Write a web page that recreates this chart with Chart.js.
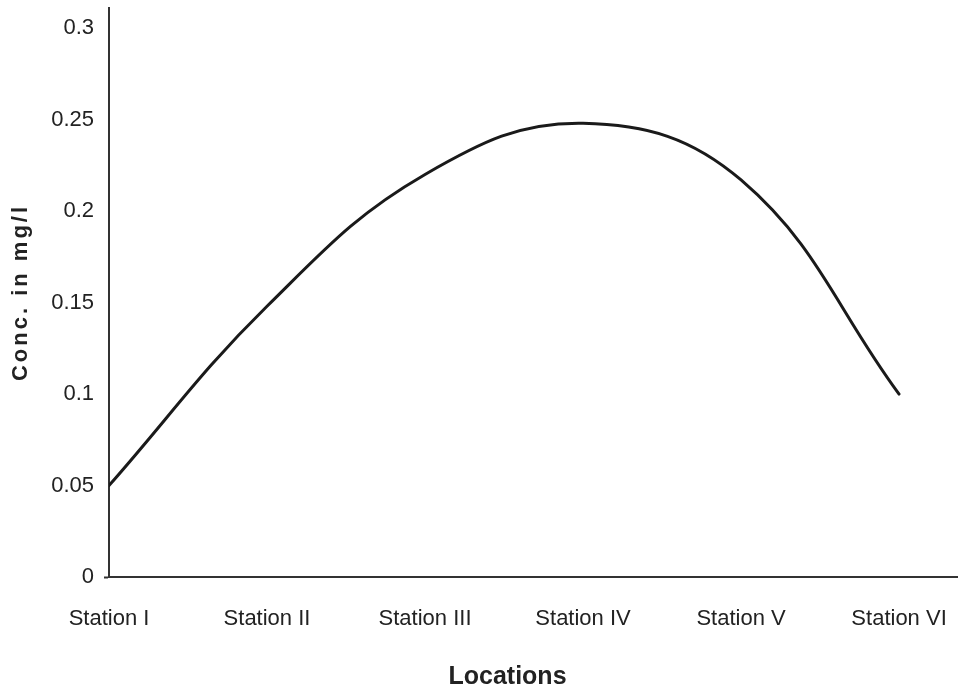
<!DOCTYPE html>
<html>
<head>
<meta charset="utf-8">
<script src="https://cdn.jsdelivr.net/npm/chart.js@4.4.1/dist/chart.umd.min.js"></script>
<style>
    body { margin: 0; background: #fff; }
    #wrap { width: 958px; height: 694px; }
</style>
</head>
<body>
<div id="wrap"><canvas id="myChart" width="958" height="694"></canvas></div>
<script>
// stations along the x axis
const stations = ['Station I', 'Station II', 'Station III', 'Station IV', 'Station V', 'Station VI'];
// concentration at each station (mg/l)
const conc = [0.05, 0.148, 0.22, 0.248, 0.217, 0.1];
// y tick values
const yTicks = [0, 0.05, 0.1, 0.15, 0.2, 0.25, 0.3];

const fontFamily = '"Liberation Sans", Arial, sans-serif';

// the y title in the picture is letter-spaced and the x title sits a bit left of centre,
// so wrap the two drawTitle calls
const titleTweaks = {
    id: 'titleTweaks',
    afterLayout(chart) {
        const y = chart.scales.y;
        const x = chart.scales.x;
        if (!y._tweaked) {
            const origY = y.drawTitle.bind(y);
            y.drawTitle = function(area) {
                chart.ctx.save();
                chart.ctx.letterSpacing = '3px';
                origY(area);
                chart.ctx.restore();
            };
            y._tweaked = true;
        }
        if (!x._tweaked) {
            const origX = x.drawTitle.bind(x);
            x.drawTitle = function(area) {
                chart.ctx.save();
                chart.ctx.translate(-26, 0);
                origX(area);
                chart.ctx.restore();
            };
            x._tweaked = true;
        }
    }
};

function noPadding(scale) {
    scale.paddingTop = 0;
    scale.paddingBottom = 0;
    scale.paddingLeft = 0;
    scale.paddingRight = 0;
}

let ctx = document.getElementById('myChart').getContext('2d');

let chart = new Chart(ctx, {
    type: 'line',
    data: {
        datasets: [{
            data: stations.map((s, i) => ({ x: i, y: conc[i] })),
            borderColor: '#1a1a1a',
            borderWidth: 3,
            borderCapStyle: 'round',
            borderJoinStyle: 'round',
            tension: 0.4,
            pointRadius: 0,
            fill: false
        }]
    },
    plugins: [titleTweaks],
    options: {
        responsive: false,
        animation: false,
        layout: {
            padding: { top: 8, right: 0, bottom: 0, left: 0 }
        },
        plugins: {
            legend: { display: false },
            tooltip: { enabled: false }
        },
        scales: {
            x: {
                type: 'linear',
                min: 0,
                max: 5.373,
                afterBuildTicks: (scale) => {
                    scale.ticks = stations.map((s, i) => ({ value: i }));
                },
                afterFit: (scale) => {
                    scale.height = 117;
                    noPadding(scale);
                },
                grid: {
                    display: false,
                    drawTicks: false
                },
                border: {
                    display: true,
                    color: '#333',
                    width: 2
                },
                ticks: {
                    autoSkip: false,
                    maxRotation: 0,
                    padding: 29,
                    color: '#222',
                    font: { family: fontFamily, size: 22 },
                    callback: (v) => stations[v]
                },
                title: {
                    display: true,
                    text: 'Locations',
                    color: '#222',
                    font: { family: fontFamily, size: 25, weight: 'bold' },
                    padding: { top: 0, bottom: 2 }
                }
            },
            y: {
                min: 0,
                max: 0.311,
                afterBuildTicks: (scale) => {
                    scale.ticks = yTicks.map(v => ({ value: v }));
                },
                afterFit: (scale) => {
                    scale.width = 109;
                    noPadding(scale);
                },
                grid: {
                    drawOnChartArea: false,
                    color: 'transparent',
                    drawTicks: true,
                    tickLength: 5,
                    tickColor: (c) => (c.tick && c.tick.value === 0) ? '#333' : 'transparent',
                    tickWidth: 2
                },
                border: {
                    display: true,
                    color: '#333',
                    width: 2
                },
                ticks: {
                    padding: 10,
                    color: '#222',
                    font: { family: fontFamily, size: 22 },
                    callback: (v) => String(+v.toFixed(2))
                },
                title: {
                    display: true,
                    text: 'Conc. in mg/l',
                    color: '#222',
                    font: { family: fontFamily, size: 22, weight: 'bold' },
                    padding: { top: 8, bottom: 0 }
                }
            }
        }
    }
});
</script>
</body>
</html>
